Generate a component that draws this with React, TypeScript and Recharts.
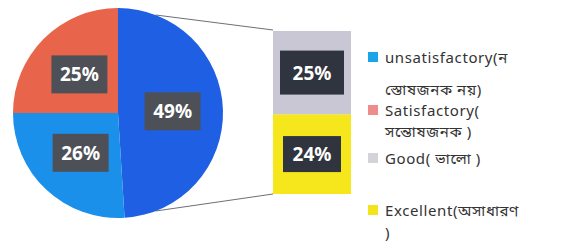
import React from 'react';
import { PieChart, Pie, Cell, BarChart, Bar, XAxis, YAxis, LabelList } from 'recharts';

// ---- data ----
const pieCategories = ['Other', 'unsatisfactory', 'Satisfactory'];
const pieValues = [49, 26, 25];
const pieColors = ['#1f5fe3', '#1a90ea', '#e8644b'];

const barCategories = ['Excellent', 'Good'];
const barValues = [24, 25];
const barColors = ['#f6e61c', '#c9c7d3'];

const legendLines = [
  ['unsatisfactory(ন', 'স্তোষজনক নয়)'],
  ['Satisfactory(', 'সন্তোষজনক )'],
  ['Good( ভালো  )'],
  ['Excellent(অসাধারণ', ')'],
];
const legendColors = ['#1ba4e8', '#ee8c8c', '#d5d3d9', '#f4e41c'];

// ---- layout ----
const W = 567;
const H = 249;
const PIE_CX = 118;
const PIE_CY = 113;
const PIE_R = 105;
const BAR_LEFT = 273;
const BAR_RIGHT = 351;
const BAR_TOP = 31;
const BAR_BOTTOM = 194;
const LEGEND_X = 368;
const LEGEND_TOPS = [57, 110, 158, 210];
const LEGEND_GAPS = [32, 21, 21, 22];
const LINE_H = 18;
const FONT = '"Noto Sans", "Noto Sans Bengali", "Open Sans", sans-serif';

const pieData = pieCategories.map((name, i) => ({ name, value: pieValues[i] }));
const barRow: Record<string, any> = { name: 'Other' };
barCategories.forEach((c, i) => (barRow[c] = barValues[i]));
const barData = [barRow];

const RAD = Math.PI / 180;

const renderPieLabel = (props: any) => {
  const { cx, cy, midAngle, outerRadius, value } = props;
  const r = outerRadius * 0.52;
  const x = cx + r * Math.cos(-midAngle * RAD);
  const y = cy + r * Math.sin(-midAngle * RAD);
  return (
    <g>
      <rect x={x - 28} y={y - 19} width={56} height={38} fill="#4e5057" />
      <text
        x={x}
        y={y}
        fill="#ffffff"
        textAnchor="middle"
        dominantBaseline="central"
        fontSize={19}
        fontWeight="bold"
        fontFamily={FONT}
      >
        {value}%
      </text>
    </g>
  );
};

const makeBarLabel = (bw: number, bh: number) => (props: any) => {
  const { x, y, width, height, value } = props;
  const cx = Number(x) + Number(width) / 2;
  const cy = Number(y) + Number(height) / 2;
  return (
    <g>
      <rect x={cx - bw / 2} y={cy - bh / 2} width={bw} height={bh} fill="#30343e" />
      <text
        x={cx}
        y={cy}
        fill="#ffffff"
        textAnchor="middle"
        dominantBaseline="central"
        fontSize={19}
        fontWeight="bold"
        fontFamily={FONT}
      >
        {value}%
      </text>
    </g>
  );
};

export default function App() {
  // connector lines from pie edge to bar stack
  const a1 = 21 * RAD;
  const a2 = 159 * RAD;
  const p1 = { x: PIE_CX + PIE_R * Math.sin(a1), y: PIE_CY - PIE_R * Math.cos(a1) };
  const p2 = { x: PIE_CX + PIE_R * Math.sin(a2), y: PIE_CY - PIE_R * Math.cos(a2) };
  return (
    <div style={{ position: 'fixed', left: 0, top: 0, width: W, height: H, background: '#ffffff', fontFamily: FONT }}>
      <svg width={W} height={H} style={{ position: 'absolute', left: 0, top: 0 }}>
        <line x1={p1.x} y1={p1.y} x2={BAR_LEFT} y2={BAR_TOP - 1} stroke="#6f6f74" strokeWidth={1} />
        <line x1={p2.x} y1={p2.y} x2={BAR_LEFT} y2={BAR_BOTTOM} stroke="#6f6f74" strokeWidth={1} />
      </svg>
      <div style={{ position: 'absolute', left: 0, top: 0 }}>
        <PieChart width={W} height={H} margin={{ top: 0, right: 0, bottom: 0, left: 0 }}>
          <Pie
            data={pieData}
            dataKey="value"
            nameKey="name"
            cx={PIE_CX}
            cy={PIE_CY}
            outerRadius={PIE_R}
            startAngle={90}
            endAngle={-270}
            stroke="none"
            label={renderPieLabel}
            labelLine={false}
            isAnimationActive={false}
          >
            {pieData.map((d, i) => (
              <Cell key={d.name} fill={pieColors[i]} />
            ))}
          </Pie>
        </PieChart>
      </div>
      <div style={{ position: 'absolute', left: 0, top: 0 }}>
        <BarChart
          width={W}
          height={H}
          data={barData}
          margin={{ top: BAR_TOP, bottom: H - BAR_BOTTOM, left: BAR_LEFT, right: W - BAR_RIGHT }}
          barCategoryGap={0}
          barGap={0}
        >
          <XAxis dataKey="name" hide />
          <YAxis hide domain={[0, barValues.reduce((a, b) => a + b, 0)]} />
          {barCategories.map((c, i) => (
            <Bar key={c} dataKey={c} stackId="s" fill={barColors[i]} isAnimationActive={false}>
              <LabelList dataKey={c} content={i === 0 ? makeBarLabel(58, 36) : makeBarLabel(64, 44)} />
            </Bar>
          ))}
        </BarChart>
      </div>
      {legendLines.map((lines, i) => (
        <div key={i} style={{ position: 'absolute', left: LEGEND_X, top: LEGEND_TOPS[i] - LINE_H / 2 }}>
          <div style={{ position: 'absolute', left: 0, top: LINE_H / 2 - 5, width: 10, height: 10, background: legendColors[i] }} />
          {lines.map((t, j) => (
            <div
              key={j}
              style={{
                position: 'absolute',
                left: 17,
                top: j * LEGEND_GAPS[i],
                whiteSpace: 'nowrap',
                fontSize: 15,
                letterSpacing: '0.6px',
                lineHeight: `${LINE_H}px`,
                height: LINE_H,
                color: '#333333',
              }}
            >
              {t}
            </div>
          ))}
        </div>
      ))}
    </div>
  );
}
